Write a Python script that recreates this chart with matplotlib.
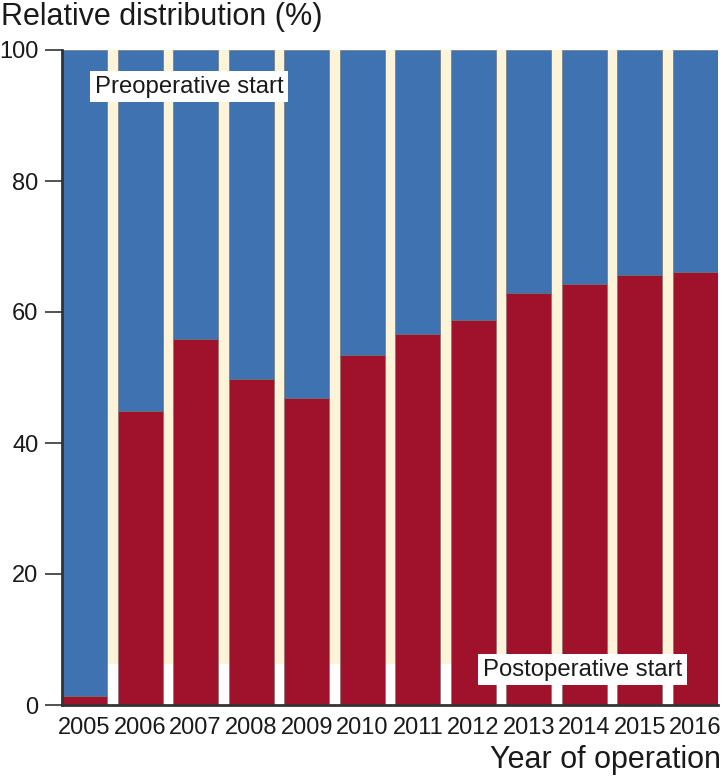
import matplotlib
matplotlib.use("Agg")
import matplotlib.pyplot as plt
import numpy as np

plt.rcParams['font.family'] = ['Liberation Sans', 'DejaVu Sans']

years = ["2005", "2006", "2007", "2008", "2009", "2010", "2011", "2012", "2013", "2014", "2015", "2016"]
postoperative = [1.4, 44.9, 55.9, 49.8, 46.9, 53.4, 56.7, 58.8, 62.9, 64.2, 65.6, 66.1]
preoperative = [100 - v for v in postoperative]
yticks = [0, 20, 40, 60, 80, 100]

blue = "#3f72b0"
red = "#a0122b"
cream = "#fbf4d9"
txt = "#1a1a1a"

fig = plt.figure(figsize=(7.23, 7.78), dpi=100)
ax = fig.add_axes([62/723, 1 - 705/778, (718-62)/723, (705-50)/778])

x = np.arange(len(years))
ax.axhspan(6.3, 100, color=cream, zorder=0, lw=0)
ax.bar(x, postoperative, width=0.81, color=red, edgecolor="#7a6a6a", linewidth=0.4, zorder=2)
ax.bar(x, preoperative, bottom=postoperative, width=0.81, color=blue, edgecolor="#6a6a6a", linewidth=0.4, zorder=2)

ax.set_xlim(-0.405, len(years) - 1 + 0.405)
ax.set_ylim(0, 100)
ax.set_yticks(yticks)
ax.set_yticklabels([str(t) for t in yticks], fontsize=17, color=txt)
ax.set_xticks(x)
ax.set_xticklabels(years, fontsize=17, color=txt)
ax.tick_params(axis='y', length=12, width=1.2, color="#333333", pad=5, direction='out')
ax.tick_params(axis='x', length=0, pad=9)

for s in ["top", "right"]:
    ax.spines[s].set_visible(False)
for s in ["left", "bottom"]:
    ax.spines[s].set_linewidth(2)
    ax.spines[s].set_color("#333333")
    ax.spines[s].set_zorder(5)

ax.text(0.19, 94.4, "Preoperative start", fontsize=17.2, color=txt, va="center", ha="left",
        bbox=dict(facecolor="white", edgecolor="none", pad=3.5), zorder=6)
ax.text(10.76, 5.4, "Postoperative start", fontsize=17.2, color=txt, va="center", ha="right",
        bbox=dict(facecolor="white", edgecolor="none", pad=3.5), zorder=6)

fig.text(1/723, 1 - 17/778, "Relative distribution (%)", fontsize=22, color=txt, ha="left", va="center")
fig.text(721/723, 1 - 760/778, "Year of operation", fontsize=22, color=txt, ha="right", va="center")

fig.savefig("out.png", dpi=100)
